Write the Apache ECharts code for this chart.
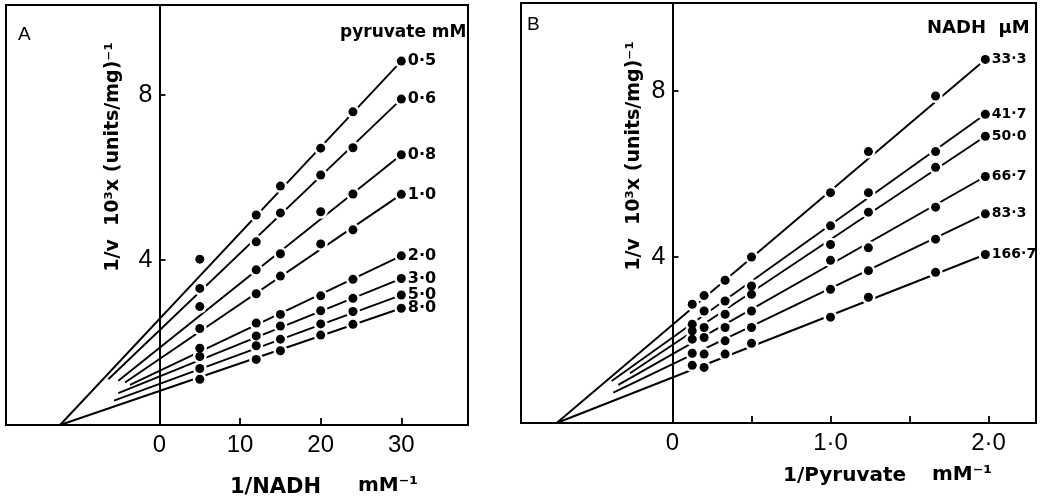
<!DOCTYPE html>
<html>
<head>
<meta charset="utf-8">
<script src="https://cdn.jsdelivr.net/npm/echarts@6/dist/echarts.min.js"></script>
<style>
  html, body { margin: 0; padding: 0; background: #fff; }
  #chart { width: 1054px; height: 501px; }
</style>
</head>
<body>
<div id="chart"></div>
<script>
// ---------------- Panel A : 1/v vs 1/NADH at several pyruvate concentrations ----------------
const pyruvateLabels = ['0·5', '0·6', '0·8', '1·0', '2·0', '3·0', '5·0', '8·0'];
const nadhInvX = [5, 12, 15, 20, 24, 30];
const panelAValues = [
  [4.02, 5.09, 5.79, 6.71, 7.59, 8.82],
  [3.31, 4.44, 5.14, 6.06, 6.72, 7.90],
  [2.87, 3.76, 4.15, 5.17, 5.60, 6.55],
  [2.34, 3.18, 3.61, 4.39, 4.73, 5.59],
  [1.86, 2.47, 2.68, 3.13, 3.53, 4.10],
  [1.66, 2.16, 2.40, 2.77, 3.07, 3.55],
  [1.37, 1.92, 2.08, 2.45, 2.75, 3.15],
  [1.11, 1.59, 1.80, 2.18, 2.44, 2.83]
];
// drawn straight lines: [x start, y start, x end, y end]
const panelALines = [
  [-12.34, 0.00, 30, 8.82],
  [-6.35, 1.11, 30, 7.90],
  [-5.11, 1.07, 30, 6.55],
  [-4.28, 1.03, 30, 5.59],
  [-3.66, 0.97, 30, 4.10],
  [-5.11, 0.77, 30, 3.55],
  [-5.65, 0.59, 30, 3.15],
  [-12.34, 0.00, 30, 2.83]
];
const panelAXTicks = [10, 20, 30];
const panelAXLabels = [0, 10, 20, 30];
const panelAYTicks = [4, 8];

// ---------------- Panel B : 1/v vs 1/Pyruvate at several NADH concentrations ----------------
const nadhLabels = ['33·3', '41·7', '50·0', '66·7', '83·3', '166·7'];
const pyruvateInvX = [0.125, 0.2, 0.333, 0.5, 1.0, 1.24, 1.665, 1.98];
const panelBValues = [
  [2.86, 3.07, 3.44, 4.00, 5.55, 6.54, 7.88, 8.76],
  [2.38, 2.70, 2.94, 3.30, 4.75, 5.55, 6.54, 7.44],
  [2.22, 2.30, 2.62, 3.10, 4.30, 5.08, 6.16, 6.91],
  [2.02, 2.06, 2.30, 2.70, 3.92, 4.22, 5.20, 5.94],
  [1.68, 1.66, 1.98, 2.30, 3.22, 3.67, 4.43, 5.04],
  [1.39, 1.34, 1.66, 1.92, 2.55, 3.03, 3.63, 4.06]
];
const panelBLines = [
  [-0.733, 0.00, 1.98, 8.76],
  [-0.385, 1.01, 1.98, 7.44],
  [-0.269, 1.20, 1.98, 6.91],
  [-0.343, 0.92, 1.98, 5.94],
  [-0.375, 0.73, 1.98, 5.04],
  [-0.733, 0.00, 1.98, 4.06]
];
const panelBXTicks = [0.5, 1.0, 1.5, 2.0];
const panelBXLabels = [0, 1.0, 2.0];
const panelBYTicks = [4, 8];

// ---------------- build ----------------
const BOLD = '"DejaVu Sans", sans-serif';
const PLAIN = '"Liberation Sans", Arial, sans-serif';

function buildSeries(axisIdx, names, xs, values, lines, labelSize) {
  const out = [];
  names.forEach((name, i) => {
    const ln = lines[i];
    out.push({
      type: 'line', name: name + ' fit', xAxisIndex: axisIdx, yAxisIndex: axisIdx,
      data: [[ln[0], ln[1]], [ln[2], ln[3]]],
      showSymbol: false, symbol: 'none', silent: true, z: 2,
      lineStyle: { color: '#000', width: 1.9, opacity: 1 }
    });
    const pts = xs.map((x, j) => [x, values[i][j]]);
    out.push({
      type: 'scatter', name: name + ' gap', xAxisIndex: axisIdx, yAxisIndex: axisIdx,
      data: pts, symbol: 'circle', symbolSize: 14, silent: true, z: 3,
      itemStyle: { color: '#fff', opacity: 1 }
    });
    out.push({
      type: 'scatter', name: name, xAxisIndex: axisIdx, yAxisIndex: axisIdx,
      data: pts.map((p, j) => j === pts.length - 1
        ? { value: p, label: { show: true, position: 'right', distance: 2, formatter: name,
            fontFamily: BOLD, fontWeight: 'bold', fontSize: labelSize, color: '#000' } }
        : { value: p }),
      symbol: 'circle', symbolSize: 9, z: 4,
      itemStyle: { color: '#000', opacity: 1 }
    });
  });
  return out;
}

function xAxisCfg(gridIndex, min, max, ticks, labels, fmt) {
  return {
    type: 'value', gridIndex, min, max,
    axisLine: { onZero: false, lineStyle: { color: '#000', width: 2 } },
    axisTick: { inside: true, length: 7, customValues: ticks, lineStyle: { color: '#000', width: 1.8 } },
    axisLabel: { customValues: labels, margin: 8, fontSize: 24, fontFamily: PLAIN, color: '#000', formatter: fmt },
    splitLine: { show: false }
  };
}
function yAxisCfg(gridIndex, min, max, ticks, offset) {
  return {
    type: 'value', gridIndex, min, max, position: 'left', offset,
    axisLine: { onZero: false, lineStyle: { color: '#000', width: 2 } },
    axisTick: { inside: true, length: 6, customValues: ticks, lineStyle: { color: '#000', width: 1.8 } },
    axisLabel: { customValues: ticks, margin: 7, fontSize: 25, fontFamily: PLAIN, color: '#000' },
    splitLine: { show: false }
  };
}

const fmtA = v => String(v);
const fmtB = v => (v === 0 ? '0' : v.toFixed(1).replace('.', '·'));

function txt(text, x, y, size, weight, align, rot, family) {
  return {
    type: 'text', x, y, rotation: rot || 0, silent: true, z: 10,
    style: { text, fontSize: size, fontWeight: weight, fontFamily: family || BOLD,
      fill: '#000', textAlign: align || 'left', textVerticalAlign: 'middle' }
  };
}

const option = {
  animation: false,
  backgroundColor: '#fff',
  grid: [
    { left: 6, top: 5, width: 462, height: 420, containLabel: false, outerBoundsMode: 'none',
      show: true, borderColor: '#000', borderWidth: 2, backgroundColor: 'transparent' },
    { left: 521, top: 3, width: 515, height: 420, containLabel: false, outerBoundsMode: 'none',
      show: true, borderColor: '#000', borderWidth: 2, backgroundColor: 'transparent' }
  ],
  xAxis: [
    xAxisCfg(0, -19.045, 38.275, panelAXTicks, panelAXLabels, fmtA),
    xAxisCfg(1, -0.9589, 2.3006, panelBXTicks, panelBXLabels, fmtB)
  ],
  yAxis: [
    yAxisCfg(0, 0, 10.18, panelAYTicks, -153.5),
    yAxisCfg(1, 0, 10.12, panelBYTicks, -151.5)
  ],
  series: [].concat(
    buildSeries(0, pyruvateLabels, nadhInvX, panelAValues, panelALines, 16),
    buildSeries(1, nadhLabels, pyruvateInvX, panelBValues, panelBLines, 14)
  ),
  graphic: [
    txt('A', 18, 35, 19, 'normal', 'left', 0, PLAIN),
    txt('B', 527, 25, 19, 'normal', 'left', 0, PLAIN),
    txt('pyruvate mM', 340, 33, 17, 'bold'),
    txt('NADH  µM', 927, 28, 18, 'bold'),
    txt('1/v  10³x (units/mg)⁻¹', 113, 157, 19, 'bold', 'center', Math.PI / 2),
    txt('1/v  10³x (units/mg)⁻¹', 634, 156, 19, 'bold', 'center', Math.PI / 2),
    txt('1/NADH', 230, 488, 21, 'bold'),
    txt('mM⁻¹', 358, 486, 20, 'bold'),
    txt('1/Pyruvate', 783, 476, 20, 'bold'),
    txt('mM⁻¹', 932, 475, 20, 'bold')
  ]
};

const chart = echarts.init(document.getElementById('chart'), null, { renderer: 'canvas' });
chart.setOption(option);
</script>
</body>
</html>
